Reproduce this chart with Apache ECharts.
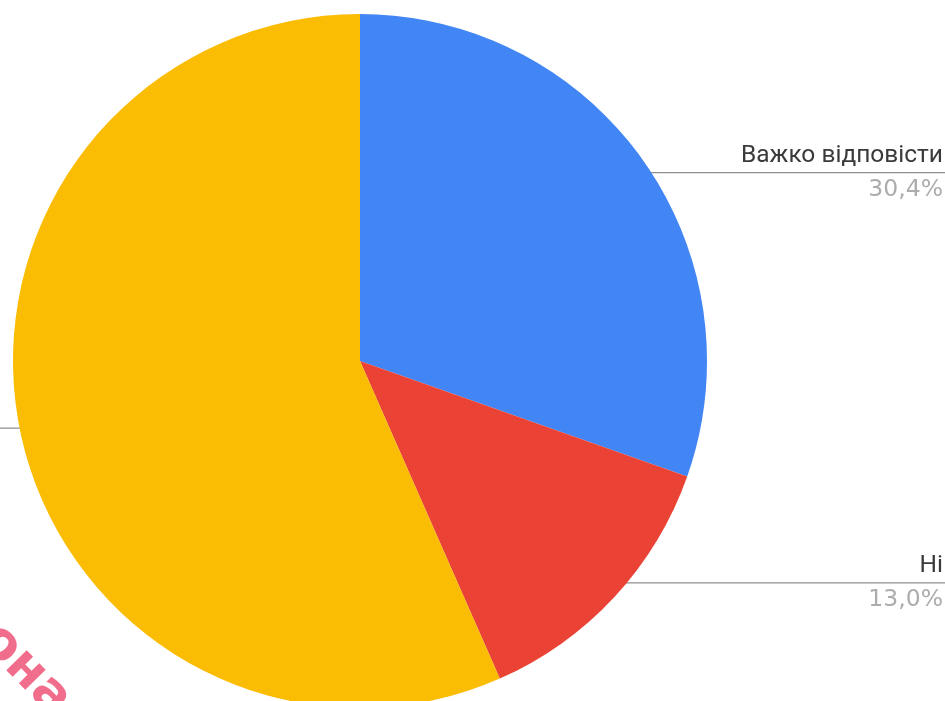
<!DOCTYPE html>
<html>
<head>
<meta charset="utf-8">
<script src="https://cdn.jsdelivr.net/npm/echarts@6/dist/echarts.min.js"></script>
<style>
html,body{margin:0;padding:0;background:#fff;}
#chart{width:945px;height:701px;}
</style>
</head>
<body>
<div id="chart"></div>
<script>
var categories = ['Важко відповісти', 'Ні', 'Так'];
var values = [30.4, 13.0, 56.6];
var percentLabels = ['30,4%', '13,0%', '56,6%'];
var colors = ['#4285F4', '#EA4335', '#FBBC04'];

var CX = 360, CY = 361, R = 347, INNER_FRAC = 0.94;

var chart = echarts.init(document.getElementById('chart'), null, {renderer: 'canvas'});

var data = categories.map(function (c, i) {
  return {name: c, value: values[i], itemStyle: {color: colors[i]}};
});

chart.setOption({
  backgroundColor: '#ffffff',
  animation: false,
  graphic: [{
    type: 'text',
    x: -12,
    y: 632,
    rotation: -0.8,
    style: {
      text: 'она',
      fontSize: 52,
      fontWeight: 'bold',
      fontFamily: 'DejaVu Sans',
      fill: '#f06e8c',
      textVerticalAlign: 'middle'
    },
    z: 100
  }],
  series: [{
    type: 'pie',
    center: [CX, CY],
    radius: R,
    startAngle: 90,
    clockwise: true,
    data: data,
    itemStyle: {borderWidth: 0},
    label: {
      show: true,
      position: 'outside',
      fontSize: 24,
      formatter: function (p) {
        return '{a|' + p.name + '}\n{b|' + percentLabels[p.dataIndex] + '}';
      },
      rich: {
        a: {fontSize: 24.5, lineHeight: 34, color: '#3a3a3a', fontFamily: 'Roboto', align: 'right'},
        b: {fontSize: 23.5, lineHeight: 34, color: '#acacac', fontFamily: 'DejaVu Sans', align: 'right'}
      }
    },
    labelLine: {
      show: true,
      lineStyle: {color: '#8f8f8f', width: 1.2}
    },
    labelLayout: function (params) {
      var pts = params.labelLinePoints;
      var ex = pts[0][0], ey = pts[0][1];
      var sx = CX + (ex - CX) * INNER_FRAC;
      var sy = CY + (ey - CY) * INNER_FRAC;
      var right = sx > CX;
      var endX = right ? 945 : -200;
      return {
        x: right ? 943 : -210,
        y: sy,
        align: 'right',
        verticalAlign: 'middle',
        labelLinePoints: [[sx, sy], [sx, sy], [endX, sy]]
      };
    }
  }]
});
</script>
</body>
</html>
